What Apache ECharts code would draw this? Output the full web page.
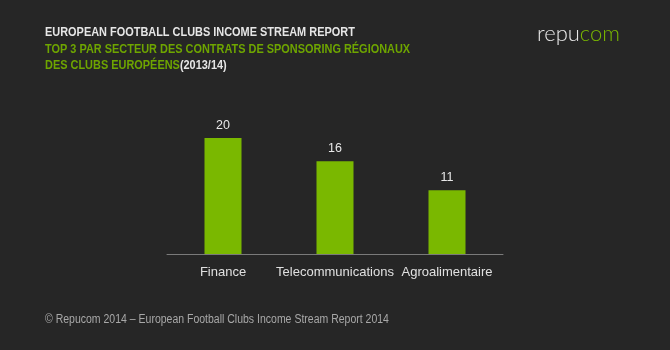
<!DOCTYPE html>
<html><head><meta charset="utf-8">
<script src="https://cdn.jsdelivr.net/npm/echarts@6/dist/echarts.min.js"></script>
<style>html,body{margin:0;padding:0;background:#262626;}#c{width:670px;height:350px;}</style>
</head><body><div id="c"></div>
<script>
var categories = ['Finance', 'Telecommunications', 'Agroalimentaire'];
var values = [20, 16, 11];
var titleLine1 = 'EUROPEAN FOOTBALL CLUBS INCOME STREAM REPORT';
var titleLine2 = 'TOP 3 PAR SECTEUR DES CONTRATS DE SPONSORING RÉGIONAUX';
var titleLine3a = 'DES CLUBS EUROPÉENS';
var titleLine3b = '(2013/14)';
var footer = '© Repucom 2014 – European Football Clubs Income Stream Report 2014';
var logoA = 'repu', logoB = 'com';

var FONT = '"Liberation Sans", Arial, sans-serif';
var GREEN = '#7ab800';
var chart = echarts.init(document.getElementById('c'));
chart.setOption({
  backgroundColor: '#262626',
  animation: false,
  grid: { left: 167, width: 336, top: 109, bottom: 96 },
  xAxis: {
    type: 'category', data: categories,
    axisLine: { lineStyle: { color: '#7a7a7a', width: 1 } },
    axisTick: { show: false },
    axisLabel: { interval: 0, color: '#e0e0e0', fontFamily: FONT, fontSize: 13, margin: 12 }
  },
  yAxis: { type: 'value', min: 0, max: 25, show: false, splitLine: { show: false } },
  series: [{
    type: 'bar', data: values, barWidth: 37,
    itemStyle: { color: GREEN },
    label: { show: true, position: 'top', distance: 6, color: '#e8e8e8', fontFamily: FONT, fontSize: 12.5 }
  }],
  graphic: [
    { type: 'text', x: 45, y: 25, scaleX: 0.81, style: { text: titleLine1, fill: '#e6e6e6', font: 'bold 13.5px ' + FONT } },
    { type: 'text', x: 45, y: 42, scaleX: 0.81, style: { text: titleLine2, fill: '#6ea500', font: 'bold 13.5px ' + FONT } },
    { type: 'text', x: 45, y: 58, scaleX: 0.81, style: {
        text: '{g|' + titleLine3a + '}{w|' + titleLine3b + '}',
        rich: {
          g: { fill: '#6ea500', font: 'bold 13.5px ' + FONT },
          w: { fill: '#e6e6e6', font: 'bold 13.5px ' + FONT }
        } } },
    { type: 'text', x: 45, y: 313, scaleX: 0.84, style: { text: footer, fill: '#a8a8a8', font: '12.5px ' + FONT } },
    { type: 'text', x: 537, y: 23, style: {
        text: '{a|' + logoA + '}{b|' + logoB + '}',
        rich: {
          a: { fill: '#e8e8e8', font: '300 22px Lato, "Open Sans", sans-serif' },
          b: { fill: GREEN, font: '300 22px Lato, "Open Sans", sans-serif' }
        } } }
  ]
});
</script></body></html>
